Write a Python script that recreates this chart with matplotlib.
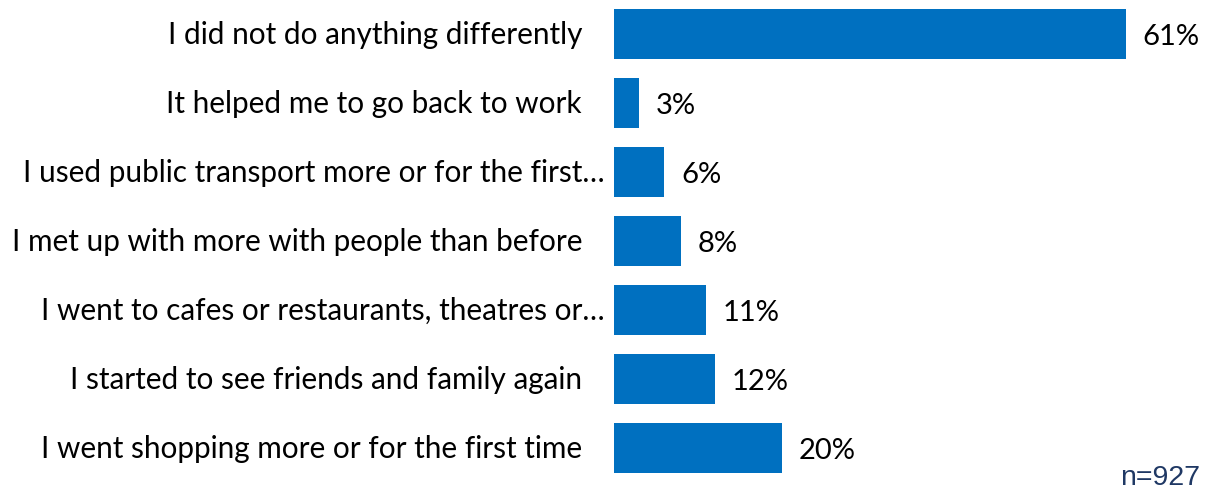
import matplotlib
matplotlib.use("Agg")
import matplotlib.pyplot as plt

# survey answers, top to bottom
answers = [
    "I did not do anything differently",
    "It helped me to go back to work",
    "I used public transport more or for the first\u2026",
    "I met up with more with people than before",
    "I went to cafes or restaurants, theatres or\u2026",
    "I started to see friends and family again",
    "I went shopping more or for the first time",
]
shares = [61, 3, 6, 8, 11, 12, 20]
sample_note = "n=927"

W, H, DPI = 1209, 490, 100
fig = plt.figure(figsize=(W / DPI, H / DPI), dpi=DPI)
fig.patch.set_facecolor("white")

# axes placed so 0% sits at x=614 and 61% at x=1126
ax = fig.add_axes([614 / W, (H - 482.5) / H, (1126 - 614) / W, 483 / H])

rows = list(range(len(answers)))
ax.barh(rows, shares, height=0.72, color="#0070C0")
ax.set_xlim(0, 61)
ax.set_ylim(6.5, -0.5)
ax.axis("off")

for r, (lab, v) in enumerate(zip(answers, shares)):
    # truncated labels run a little closer to the bars
    xr = 605 if lab.endswith("\u2026") else 582
    fig.text(xr / W, 1 - (35 + 69 * r) / H, lab, ha="right", va="center",
             fontsize=21.4, family="Lato", color="black")
    ax.text(v + 2.0, r + 0.05, f"{v}%", ha="left", va="center",
            fontsize=21, family="Lato", color="black")

fig.text(1200 / W, 1 - 478 / H, sample_note, ha="right", va="center",
         fontsize=20.5, family="Liberation Sans", color="#1F3864")

fig.savefig("out.png", dpi=DPI)
